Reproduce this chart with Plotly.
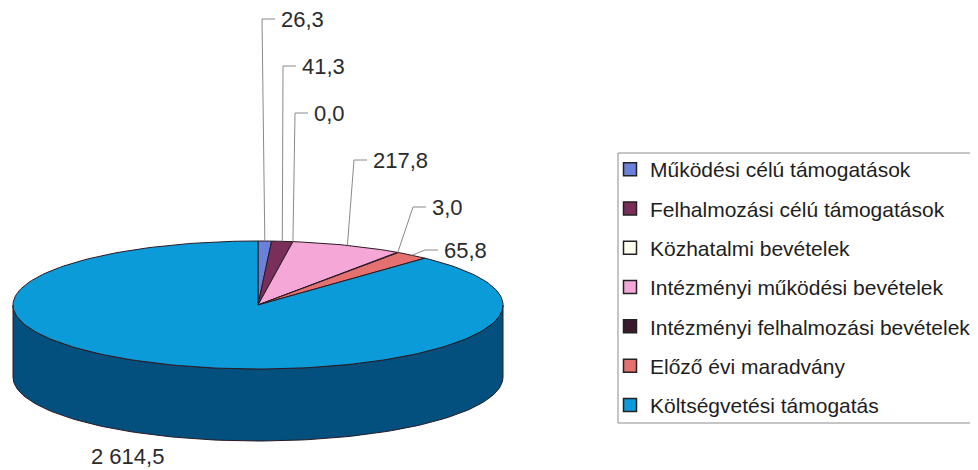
import math
import plotly.graph_objects as go

# ---- data ----
categories = [
    "Működési célú támogatások",
    "Felhalmozási célú támogatások",
    "Közhatalmi bevételek",
    "Intézményi működési bevételek",
    "Intézményi felhalmozási bevételek",
    "Előző évi maradvány",
    "Költségvetési támogatás",
]
values = [26.3, 41.3, 0.0, 217.8, 3.0, 65.8, 2614.5]

# ---- style ----
top_colors = ["#6B80D8", "#7A2E5A", "#FFFFF0", "#F5A8D8", "#3A1A2C", "#E57070", "#0A9BD8"]
side_colors = ["#3A4C8A", "#4A1836", "#B0B0A0", "#A8709A", "#20101A", "#9A4040", "#03507F"]
outline = "#2A1A24"
FONT = "Liberation Sans, Arial, sans-serif"
label_font = dict(family=FONT, size=22, color="#2B2B2B")

# page offset (default body margin of the html page)
OFF = 8
W, H = 978, 470

# pie geometry (page pixel space)
CX, CY, RX, RY, DEPTH = 258, 305, 245, 64, 72

# label anchor positions (layout, page pixels)
label_pos = [(279, 19), (300, 66), (312, 113), (371, 160), (430, 207), (442, 250), (89, 456)]
label_leader = [True, True, True, True, True, True, False]


def rim(theta_deg, dy=0.0):
    t = math.radians(theta_deg)
    return CX + RX * math.sin(t), CY - RY * math.cos(t) + dy


def fmt(v):
    return f"{v:,.1f}".replace(",", " ").replace(".", ",")


total = sum(values)
angles = []
a = 0.0
for v in values:
    span = 360.0 * v / total
    angles.append((a, a + span))
    a += span

fig = go.Figure()

# side walls (front-facing part: 90..270 degrees)
for (a0, a1), col in zip(angles, side_colors):
    s0, s1 = max(a0, 90.0), min(a1, 270.0)
    if s1 <= s0:
        continue
    n = max(2, int((s1 - s0) / 1.5))
    ts = [s0 + (s1 - s0) * i / n for i in range(n + 1)]
    xs = [rim(t)[0] for t in ts] + [rim(t, DEPTH)[0] for t in reversed(ts)]
    ys = [rim(t)[1] for t in ts] + [rim(t, DEPTH)[1] for t in reversed(ts)]
    fig.add_trace(go.Scatter(x=xs + [xs[0]], y=ys + [ys[0]], mode="lines", fill="toself",
                             fillcolor=col, line=dict(color=outline, width=1),
                             hoverinfo="skip", showlegend=False))

# top faces
for (a0, a1), col, name, v in zip(angles, top_colors, categories, values):
    if a1 - a0 <= 0:
        continue
    n = max(2, int((a1 - a0) / 1.5))
    ts = [a0 + (a1 - a0) * i / n for i in range(n + 1)]
    xs = [CX] + [rim(t)[0] for t in ts] + [CX]
    ys = [CY] + [rim(t)[1] for t in ts] + [CY]
    fig.add_trace(go.Scatter(x=xs, y=ys, mode="lines", fill="toself", fillcolor=col,
                             line=dict(color=outline, width=1), hoverinfo="text",
                             text=f"{name}: {fmt(v)}", showlegend=False))

# leader lines and labels
for (a0, a1), v, (lx, ly), lead in zip(angles, values, label_pos, label_leader):
    if lead:
        mx, my = rim((a0 + a1) / 2)
        fig.add_trace(go.Scatter(x=[mx, lx - 17, lx - 4], y=[my, ly, ly], mode="lines",
                                 line=dict(color="#8A8A8A", width=1),
                                 hoverinfo="skip", showlegend=False))
    fig.add_annotation(x=lx, y=ly, text=fmt(v), showarrow=False, xanchor="left",
                       yanchor="middle", font=label_font)

# legend entries
for i, (name, col) in enumerate(zip(categories, top_colors)):
    fig.add_trace(go.Scatter(x=[None], y=[None], mode="markers", name=name,
                             legendgroup=f"g{i}",
                             marker=dict(symbol="square", size=13, color=col,
                                         line=dict(color="#222222", width=1.5))))

# legend frame (page pixels)
LX0, LX1, LY0, LY1 = 618, 973, 153, 423
fig.add_shape(type="rect", xref="x", yref="y", x0=LX0, x1=LX1, y0=LY0, y1=LY1,
              line=dict(color="#8C8C8C", width=1), layer="below")

fig.update_layout(
    width=W, height=H,
    margin=dict(l=0, r=0, t=0, b=0),
    paper_bgcolor="white", plot_bgcolor="white",
    xaxis=dict(range=[OFF, W + OFF], visible=False, fixedrange=True),
    yaxis=dict(range=[H + OFF, OFF], visible=False, fixedrange=True),
    showlegend=True,
    legend=dict(x=(610 - OFF) / W, y=1 - (149 - OFF) / H, xanchor="left", yanchor="top",
                borderwidth=0, bgcolor="rgba(0,0,0,0)",
                font=dict(family=FONT, size=21, color="#1E1E1E"),
                tracegroupgap=9, traceorder="grouped", itemwidth=30),
)

fig.write_html("out.html")
